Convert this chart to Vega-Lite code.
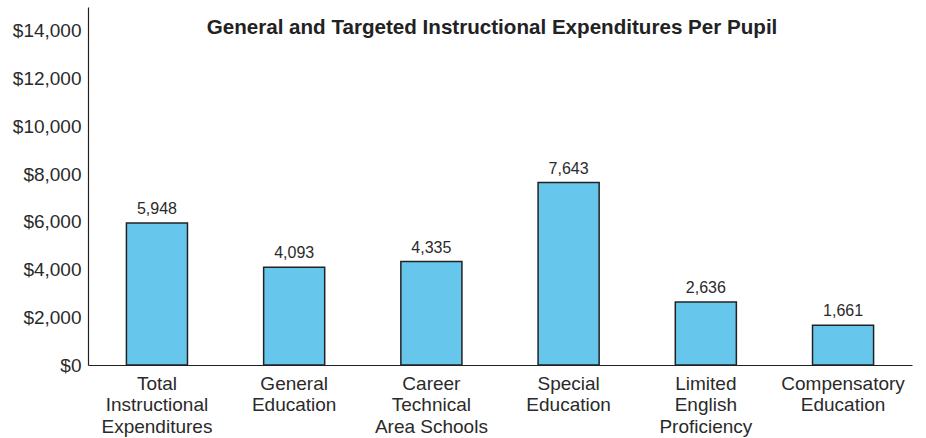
{
  "$schema": "https://vega.github.io/schema/vega-lite/v6.json",
  "width": 824,
  "height": 358,
  "autosize": {"type": "none"},
  "padding": {"left": 88, "top": 7, "right": 14, "bottom": 73},
  "background": "white",
  "config": {"view": {"stroke": null}, "font": "Liberation Sans"},
  "title": {
    "text": "General and Targeted Instructional Expenditures Per Pupil",
    "fontSize": 20.6,
    "fontWeight": "bold",
    "color": "#222222",
    "font": "Liberation Sans",
    "anchor": "middle",
    "offset": -32,
    "dx": -8
  },
  "data": {
    "values": [
      {"category": "Total|Instructional|Expenditures", "value": 5948},
      {"category": "General|Education", "value": 4093},
      {"category": "Career|Technical|Area Schools", "value": 4335},
      {"category": "Special|Education", "value": 7643},
      {"category": "Limited|English|Proficiency", "value": 2636},
      {"category": "Compensatory|Education", "value": 1661}
    ]
  },
  "encoding": {
    "x": {
      "field": "category",
      "type": "nominal",
      "sort": null,
      "scale": {"paddingInner": 0.555, "paddingOuter": 0.28},
      "axis": {
        "title": null,
        "labelAngle": 0,
        "ticks": false,
        "labelExpr": "split(datum.label, '|')",
        "labelFontSize": 19,
        "labelLineHeight": 21.5,
        "labelPadding": 9,
        "labelColor": "#2a2a2a",
        "labelFont": "Liberation Sans",
        "domainColor": "#222222",
        "domainWidth": 1.2,
        "labelLimit": 200
      }
    },
    "y": {
      "field": "value",
      "type": "quantitative",
      "scale": {"domain": [0, 15000], "nice": false},
      "axis": {
        "title": null,
        "values": [0, 2000, 4000, 6000, 8000, 10000, 12000, 14000],
        "format": "$,d",
        "ticks": false,
        "grid": false,
        "labelFontSize": 19,
        "labelPadding": 7,
        "labelColor": "#2a2a2a",
        "labelFont": "Liberation Sans",
        "domainColor": "#222222",
        "domainWidth": 1.2
      }
    }
  },
  "layer": [
    {
      "mark": {"type": "bar", "fill": "#66C6EC", "stroke": "#222222", "strokeWidth": 1.5}
    },
    {
      "mark": {"type": "text", "baseline": "bottom", "dy": -6, "fontSize": 16, "color": "#2a2a2a", "font": "Liberation Sans"},
      "encoding": {"text": {"field": "value", "type": "quantitative", "format": ",d"}}
    }
  ]
}
